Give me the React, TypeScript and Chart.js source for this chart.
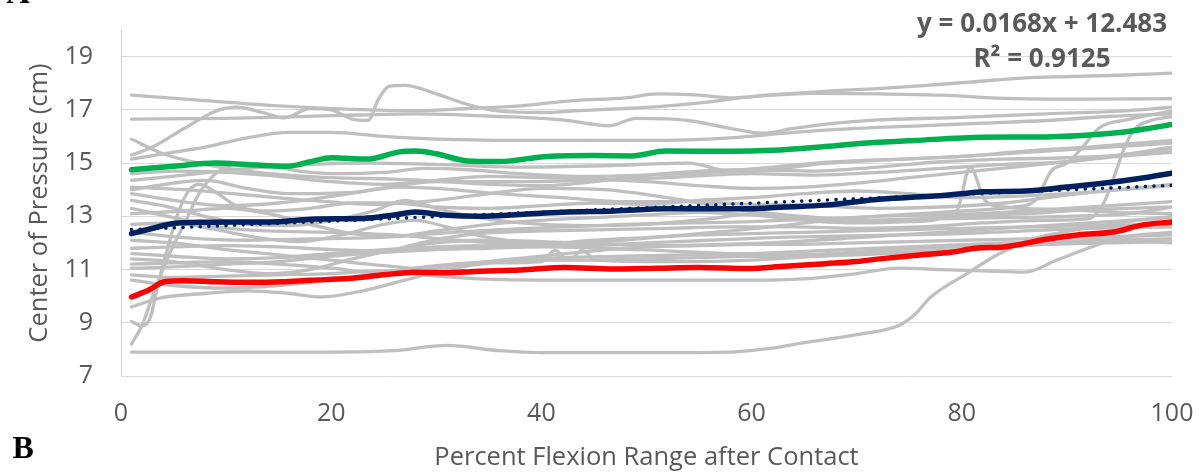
import React, { useEffect, useRef } from 'react';
import { Chart, registerables } from 'chart.js';

Chart.register(...registerables);

type Pt = [number, number];

// Axis ticks
const xTicks = [0, 20, 40, 60, 80, 100];
const yTicks = [7, 9, 11, 13, 15, 17, 19];

// Linear trend of the mean curve
const trendSlope = 0.0168;
const trendIntercept = 12.483;
const trendR2 = 0.9125;
const trendRange: number[] = [1, 100];

// Highlighted curves: [percent flexion, centre of pressure]
const upperCurve: Pt[] = [[1,14.75],[5,14.88],[9,15.0],[12,14.95],[15.8,14.88],[18,15.05],[20,15.2],[23.4,15.15],[26.5,15.42],[28,15.45],[30,15.35],[33,15.08],[36,15.06],[40.6,15.25],[45,15.28],[48.6,15.27],[51.8,15.45],[58,15.44],[62,15.48],[67,15.62],[71,15.75],[75.5,15.85],[82,15.97],[87,15.98],[91.4,16.04],[95,16.15],[97.7,16.3],[100,16.45]];
const meanCurve: Pt[] = [[1,12.35],[3,12.55],[5,12.73],[8,12.78],[12,12.79],[15,12.8],[18.5,12.9],[23,12.92],[26,13.05],[28,13.16],[31,13.04],[34,13.0],[38,13.07],[42,13.15],[47,13.2],[51.8,13.28],[56,13.28],[59.7,13.28],[63,13.35],[67,13.42],[72.4,13.65],[77,13.75],[80,13.85],[82,13.92],[86,13.95],[90,14.1],[93,14.22],[97.7,14.47],[100,14.62]];
const lowerCurve: Pt[] = [[1,9.97],[2.6,10.22],[4.2,10.55],[6,10.58],[9,10.54],[12,10.52],[15.3,10.54],[18,10.6],[21.6,10.66],[25,10.8],[28,10.9],[31,10.88],[33.7,10.93],[38,10.98],[42.2,11.08],[47,11.02],[51,11.05],[55,11.08],[59.7,11.04],[63,11.12],[67,11.22],[70,11.3],[72.4,11.41],[76,11.55],[79,11.65],[81.3,11.8],[84,11.85],[88.2,12.15],[91,12.3],[94.6,12.42],[97,12.66],[100,12.79]];

// Individual trials
const trial01: Pt[] = [[1,17.55],[8,17.35],[15,17.15],[22,17.02],[28,16.97],[33,17.05],[38,17.15],[43,17.35],[48,17.45],[51,17.6],[55,17.55],[58,17.45],[62,17.55],[66,17.62],[72,17.6],[78,17.55],[85,17.42],[92,17.4],[100,17.42]];
const trial02: Pt[] = [[1,15.3],[3,15.6],[6,16.3],[9,16.95],[11,17.1],[13.5,16.9],[15.5,16.7],[18,17.05],[20,17.0],[22,16.65],[23.5,16.6],[24.5,17.4],[25.5,17.88],[27,17.92],[30,17.6],[33,17.2],[36,16.95],[40,16.9],[44,16.98],[48,17.05],[52,17.15],[56,17.3],[60,17.5],[64,17.62],[68,17.72],[72,17.8],[76,17.9],[81,18.05],[86,18.2],[90,18.25],[95,18.3],[100,18.38]];
const trial03: Pt[] = [[1,16.65],[10,16.68],[20,16.78],[28,16.85],[36,16.75],[42,16.62],[46.5,16.4],[49,16.68],[54,16.6],[58,16.3],[61,16.12],[64,16.3],[68,16.5],[72,16.62],[80,16.72],[88,16.85],[95,16.95],[100,17.1]];
const trial04: Pt[] = [[1,15.9],[4,15.35],[8,14.95],[12,14.7],[16,14.55],[20,14.45],[26,14.4],[32,14.3],[38,14.3],[45,14.35],[52,14.45],[60,14.6],[66,14.55],[72,14.65],[78,14.8],[84,14.95],[90,15.05],[95,15.3],[100,15.6]];
const trial05: Pt[] = [[1,15.15],[4,15.35],[8,15.6],[12,15.95],[16,16.15],[20,16.15],[25,16.0],[30,15.9],[40,15.85],[50,15.85],[58,15.95],[64,16.15],[70,16.3],[76,16.4],[82,16.5],[88,16.6],[94,16.75],[100,16.85]];
const trial06: Pt[] = [[1,14.35],[6,14.55],[12,14.8],[18,14.95],[24,15.0],[30,14.95],[38,14.85],[46,14.9],[54,15.0],[58,14.7],[62,14.75],[66,14.95],[72,15.1],[80,15.25],[88,15.45],[94,15.6],[100,15.75]];
const trial07: Pt[] = [[1,14.0],[5,14.25],[8,14.35],[12,14.05],[16,13.85],[22,13.9],[26,14.1],[30,14.05],[36,13.85],[42,13.7],[48,13.55],[54,13.55],[60,13.45],[66,13.4],[72,13.3],[78,13.35],[84,13.5],[90,13.8],[95,14.0],[100,14.15]];
const trial08: Pt[] = [[1,13.85],[5,13.6],[10,13.4],[15,13.5],[20,13.75],[25,14.05],[30,14.3],[35,14.2],[40,14.15],[45,14.3],[50,14.55],[55,14.7],[60,14.75],[66,14.7],[72,14.85],[78,15.05],[84,15.15],[90,15.2],[95,15.3],[100,15.5]];
const trial09: Pt[] = [[1,13.6],[4,13.4],[8,13.0],[12,12.7],[16,12.65],[20,12.85],[24,13.2],[27,13.6],[30,13.3],[34,12.95],[38,12.75],[44,12.65],[50,12.7],[56,12.9],[60,13.1],[65,13.0],[70,12.85],[76,12.9],[80,13.0],[86,13.1],[92,13.25],[100,13.35]];
const trial10: Pt[] = [[1,13.3],[5,12.95],[9,12.6],[14,12.45],[20,12.4],[26,12.3],[32,12.1],[38,11.95],[44,11.9],[50,12.0],[56,12.1],[62,12.2],[68,12.25],[74,12.3],[80,12.35],[86,12.45],[92,12.55],[100,12.6]];
const trial11: Pt[] = [[1,13.1],[6,13.2],[10,13.3],[14,13.1],[18,12.7],[22,12.35],[26,12.25],[30,12.45],[35,12.7],[40,12.85],[45,12.95],[50,13.05],[55,13.15],[60,13.05],[65,12.85],[70,12.75],[75,12.8],[79.5,13.2],[80.8,14.85],[82.2,13.6],[84,13.35],[90,13.25],[95,13.15],[100,13.1]];
const trial12: Pt[] = [[1,12.1],[5,12.0],[10,11.75],[15,11.55],[20,11.35],[25,11.15],[30,11.0],[35,11.3],[40,11.5],[45,11.7],[50,11.85],[55,11.9],[60,11.95],[65,11.95],[70,12.0],[75,12.05],[80,12.1],[86,12.15],[92,12.2],[100,12.3]];
const trial13: Pt[] = [[1,11.8],[5,11.85],[10,11.9],[15,11.85],[20,11.75],[25,11.7],[28,11.95],[31,12.2],[34,12.35],[40,12.45],[46,12.5],[52,12.55],[58,12.6],[64,12.6],[70,12.55],[76,12.6],[82,12.75],[88,12.85],[92,12.9],[93.5,13.5],[94.5,14.5],[95.5,15.6],[96.5,16.3],[98,16.6],[100,16.75]];
const trial14: Pt[] = [[1,11.6],[5,11.5],[10,11.4],[15,11.45],[20,11.6],[25,11.75],[30,11.85],[35,11.9],[40,11.95],[45,12.1],[50,12.2],[55,12.3],[60,12.35],[65,12.4],[70,12.45],[75,12.5],[80,12.55],[86,12.6],[92,12.65],[100,12.7]];
const trial15: Pt[] = [[1,11.2],[5,11.25],[10,11.3],[15,11.2],[20,11.05],[25,10.85],[28,10.95],[32,11.2],[36,11.25],[40,11.3],[41.3,11.72],[42.6,11.35],[43.9,11.72],[45.2,11.35],[50,11.3],[55,11.3],[60,11.35],[66,11.5],[72,11.6],[78,11.7],[84,11.85],[90,12.0],[95,12.1],[100,12.15]];
const trial16: Pt[] = [[1,11.05],[5,11.1],[10,11.2],[15,11.3],[20,11.5],[25,11.65],[30,11.75],[35,11.8],[40,11.85],[46,11.8],[52,11.7],[58,11.6],[64,11.55],[70,11.65],[76,11.8],[82,11.9],[88,11.95],[94,12.0],[100,12.05]];
const trial17: Pt[] = [[1,10.8],[5,10.7],[10,10.75],[15,10.8],[20,10.85],[25,10.95],[30,10.75],[34,10.65],[40,10.6],[50,10.6],[60,10.6],[65,10.65],[70,10.85],[74,11.05],[78,11.0],[82,10.95],[86,10.9],[89,11.35],[92,11.8],[95,12.2],[100,12.4]];
const trial18: Pt[] = [[1,10.6],[5,10.4],[10,10.3],[15,10.4],[20,10.6],[25,10.9],[30,11.15],[35,11.3],[40,11.35],[45,11.35],[50,11.4],[55,11.45],[60,11.5],[65,11.5],[70,11.55],[75,11.65],[80,11.75],[85,11.9],[90,12.05],[95,12.1],[100,12.0]];
const trial19: Pt[] = [[1,9.6],[4,9.95],[8,10.1],[12,10.2],[16,10.1],[19,9.97],[23,10.2],[27,10.6],[31,11.0],[36,11.3],[42,11.45],[48,11.5],[54,11.55],[60,11.6],[66,11.7],[72,11.8],[78,11.9],[84,12.0],[90,12.05],[95,12.1],[100,12.15]];
const trial20: Pt[] = [[1,9.05],[2,8.88],[2.8,9.2],[3.5,10.4],[4.5,11.9],[5.5,13.2],[6.5,14.0],[7.5,14.2],[9,13.9],[11,13.4],[14,13.2],[18,13.3],[22,13.5],[26,13.5],[30,13.35],[35,13.3],[40,13.4],[45,13.5],[50,13.45],[55,13.6],[60,13.7],[65,13.85],[70,13.95],[75,13.85],[80,13.7],[85,13.75],[90,13.85],[95,14.0],[100,14.2]];
const trial21: Pt[] = [[1,7.9],[10,7.9],[20,7.9],[26,7.95],[31,8.15],[36,7.95],[40,7.88],[50,7.88],[58,7.9],[62,8.05],[65,8.25],[70,8.55],[74,8.9],[75.5,9.3],[77,9.95],[80.5,10.85],[83.6,11.6],[86.8,12.15],[91,12.5],[95,12.75],[100,13.0]];
const trial22: Pt[] = [[1,8.2],[2,8.9],[3,10.0],[4.5,11.5],[6,12.7],[7.5,13.9],[9,14.6],[11,14.95],[14,14.9],[17,14.7],[21,14.6],[25,14.65],[29,14.8],[33,14.75],[38,14.6],[44,14.5],[50,14.55],[56,14.65],[62,14.85],[68,15.05],[74,15.15],[80,15.25],[86,15.45],[92,15.6],[100,15.85]];
const trial23: Pt[] = [[1,12.7],[5,12.75],[9,12.5],[13,12.2],[17,12.05],[21,12.3],[25,12.7],[28,12.85],[31,12.6],[35,12.2],[40,12.0],[46,12.05],[52,12.25],[58,12.45],[64,12.7],[70,12.95],[76,13.1],[80,13.2],[85,13.35],[87,13.6],[88.5,14.7],[90,15.0],[91.5,15.6],[93,16.3],[96,16.65],[100,16.95]];
const trial24: Pt[] = [[1,14.1],[6,14.0],[12,13.8],[18,13.6],[24,13.45],[30,13.6],[36,13.9],[40,14.05],[46,14.0],[52,13.7],[58,13.3],[62,13.1],[66,12.9],[72,12.85],[78,12.9],[84,12.95],[90,13.0],[96,13.1],[100,13.35]];
const trial25: Pt[] = [[1,12.4],[6,12.2],[12,12.1],[18,12.15],[24,12.2],[30,12.35],[36,12.5],[42,12.6],[48,12.7],[54,12.75],[60,12.8],[66,12.9],[72,13.0],[78,13.05],[84,13.15],[90,13.3],[96,13.45],[100,13.55]];
const trial26: Pt[] = [[1,11.4],[5,11.3],[10,11.0],[14,10.85],[18,11.0],[22,11.4],[26,11.75],[30,12.0],[34,12.1],[40,12.05],[46,11.95],[52,11.9],[58,11.95],[64,12.05],[70,12.2],[76,12.35],[82,12.5],[88,12.65],[94,12.8],[100,12.95]];
const trial27: Pt[] = [[1,14.6],[5,14.7],[10,14.65],[15,14.5],[20,14.3],[25,14.2],[30,14.35],[35,14.5],[40,14.45],[45,14.4],[50,14.3],[55,14.15],[60,14.05],[65,14.1],[70,14.25],[75,14.45],[80,14.65],[85,14.85],[90,15.05],[95,15.25],[100,15.4]];

const trials: Pt[][] = [
  trial01, trial02, trial03, trial04, trial05, trial06, trial07, trial08, trial09,
  trial10, trial11, trial12, trial13, trial14, trial15, trial16, trial17, trial18,
  trial19, trial20, trial21, trial22, trial23, trial24, trial25, trial26, trial27,
];

const FONT = "'Open Sans', 'DejaVu Sans', sans-serif";
const TEXT_GREY = '#595959';

const toXY = (pts: Pt[]) => pts.map(([x, y]) => ({ x, y }));

// Trend equation, panel letters
const annotations = {
  id: 'annotations',
  afterDraw(chart: Chart) {
    const { ctx } = chart;
    ctx.save();
    ctx.fillStyle = TEXT_GREY;
    ctx.textAlign = 'center';
    ctx.textBaseline = 'alphabetic';
    ctx.font = `bold 26px ${FONT}`;
    ctx.fillText(`y = ${trendSlope}x + ${trendIntercept}`, 1042, 31.7);
    ctx.fillText(`R\u00B2 = ${trendR2}`, 1042, 66.5);

    ctx.fillStyle = '#000000';
    ctx.textAlign = 'left';
    ctx.font = "bold 32px 'Liberation Serif', 'Times New Roman', serif";
    ctx.fillText('A', 6.5, 2.7);
    ctx.fillText('B', 12.5, 458);
    ctx.restore();
  },
};

export default function App() {
  const canvasRef = useRef<HTMLCanvasElement | null>(null);

  useEffect(() => {
    const canvas = canvasRef.current;
    if (!canvas) return;

    const line = (pts: Pt[], color: string, width: number, order: number) => ({
      data: toXY(pts),
      borderColor: color,
      backgroundColor: color,
      borderWidth: width,
      pointRadius: 0,
      fill: false,
      cubicInterpolationMode: 'monotone' as const,
      borderCapStyle: 'round' as const,
      borderJoinStyle: 'round' as const,
      order,
    });

    const trendPts: Pt[] = trendRange.map((x) => [x, trendSlope * x + trendIntercept]);

    const datasets: any[] = [
      ...trials.map((t) => line(t, '#bfbfbf', 3.3, 10)),
      line(upperCurve, '#00b050', 5.5, 3),
      line(lowerCurve, '#ff0000', 5.5, 2),
      line(meanCurve, '#002060', 5.5, 1),
      {
        ...line(trendPts, '#002060', 3.6, 0),
        cubicInterpolationMode: 'default',
        tension: 0,
        borderDash: [0, 8.6],
        borderCapStyle: 'round',
      },
    ];

    const chart = new Chart(canvas, {
      type: 'line',
      data: { datasets },
      plugins: [annotations],
      options: {
        responsive: false,
        animation: false,
        events: [],
        layout: { padding: { top: 30, right: 30, left: 0, bottom: 0 } },
        plugins: { legend: { display: false }, tooltip: { enabled: false } },
        scales: {
          x: {
            type: 'linear',
            min: 0,
            max: 100,
            afterBuildTicks: (s: any) => { s.ticks = xTicks.map((v) => ({ value: v })); },
            afterFit: (s: any) => {
              s.height = 99;
              s.paddingLeft = 0;
              s.paddingRight = 0;
            },
            grid: { display: false, drawTicks: false },
            border: { display: false },
            ticks: {
              color: TEXT_GREY,
              font: { family: FONT, size: 25 },
              padding: 23,
              maxRotation: 0,
              autoSkip: false,
            },
            title: {
              display: true,
              text: 'Percent Flexion Range after Contact',
              color: TEXT_GREY,
              font: { family: FONT, size: 25.5 },
              padding: { top: 0, bottom: 1.7 },
            },
          },
          y: {
            type: 'linear',
            min: 7,
            max: 20,
            afterBuildTicks: (s: any) => { s.ticks = yTicks.map((v) => ({ value: v })); },
            afterFit: (s: any) => {
              s.width = 121;
              s.paddingTop = 0;
              s.paddingBottom = 0;
            },
            grid: { color: '#d9d9d9', lineWidth: 1, drawTicks: false },
            border: { display: true, color: '#cfcfcf', width: 1 },
            ticks: {
              color: TEXT_GREY,
              font: { family: FONT, size: 25 },
              padding: 28,
              autoSkip: false,
            },
            title: {
              display: true,
              text: 'Center of Pressure (cm)',
              color: TEXT_GREY,
              font: { family: FONT, size: 25.5 },
              padding: { top: 24, bottom: 0 },
            },
          },
        },
      },
    });

    return () => chart.destroy();
  }, []);

  return (
    <div style={{ position: 'fixed', left: 0, top: 0, width: 1202, height: 475, background: '#ffffff' }}>
      <canvas ref={canvasRef} width={1202} height={475} style={{ display: 'block' }} />
    </div>
  );
}
